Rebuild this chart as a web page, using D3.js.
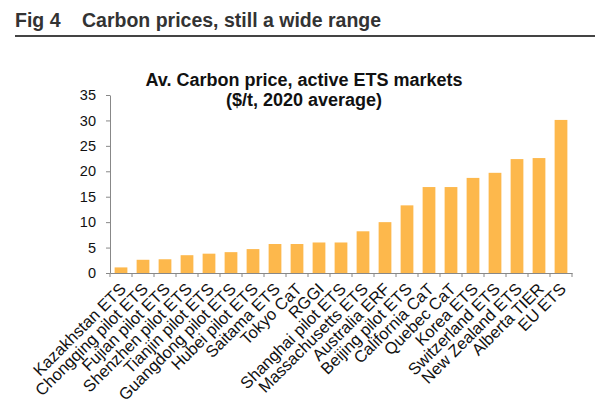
<!DOCTYPE html>
<html>
<head>
<meta charset="utf-8">
<script src="https://cdn.jsdelivr.net/npm/d3@7"></script>
<style>
  html, body { margin: 0; padding: 0; background: #fff; }
  svg { display: block; font-family: "Liberation Sans", Arial, Helvetica, sans-serif; }
</style>
</head>
<body>
<svg id="chart" width="602" height="416"></svg>
<script>
const categories = [
  "Kazakhstan ETS", "Chongqing pilot ETS", "Fujian pilot ETS", "Shenzhen pilot ETS",
  "Tianjin pilot ETS", "Guangdong pilot ETS", "Hubei pilot ETS", "Saitama ETS",
  "Tokyo CaT", "RGGI", "Shanghai pilot ETS", "Massachusetts ETS", "Australia ERF",
  "Beijing pilot ETS", "California CaT", "Quebec CaT", "Korea ETS", "Switzerland ETS",
  "New Zealand ETS", "Alberta TIER", "EU ETS"
];
const prices = [1.1, 2.6, 2.7, 3.5, 3.8, 4.1, 4.7, 5.7, 5.7, 6.0, 6.0, 8.2, 10.0,
  13.3, 16.9, 16.9, 18.7, 19.7, 22.4, 22.6, 30.1];
const yTicks = [0, 5, 10, 15, 20, 25, 30, 35];
const figLabel = "Fig 4";
const figTitle = "Carbon prices, still a wide range";
const chartTitle = ["Av. Carbon price, active ETS markets", "($/t, 2020 average)"];

(function () {
const svg = d3.select("#chart");
const mLeft = 110, mRight = 572, mTop = 95, mBottom = 273;

// Header
svg.append("text").attr("x", 15).attr("y", 27)
  .attr("font-size", 19.5).attr("font-weight", "bold").attr("fill", "#333")
  .text(figLabel);
svg.append("text").attr("x", 82).attr("y", 27)
  .attr("font-size", 19.5).attr("font-weight", "bold").attr("fill", "#333")
  .text(figTitle);
svg.append("line").attr("x1", 15).attr("x2", 595).attr("y1", 36).attr("y2", 36)
  .attr("stroke", "#444").attr("stroke-width", 2);

// Chart title
const ct = svg.append("text").attr("text-anchor", "middle")
  .attr("font-size", 18).attr("font-weight", "bold").attr("fill", "#111");
ct.append("tspan").attr("x", 304).attr("y", 86).text(chartTitle[0]);
ct.append("tspan").attr("x", 304).attr("y", 106).text(chartTitle[1]);

const x = d3.scaleBand().domain(categories).range([mLeft, mRight]).paddingInner(0.42).paddingOuter(0.21);
const y = d3.scaleLinear().domain([0, 35]).range([mBottom, mTop]);

// Bars
svg.append("g").selectAll("rect").data(categories).join("rect")
  .attr("x", d => x(d))
  .attr("width", x.bandwidth())
  .attr("y", (d, i) => y(prices[i]))
  .attr("height", (d, i) => y(0) - y(prices[i]))
  .attr("fill", "#FDB84C");

// Y axis
const yAxis = svg.append("g").attr("transform", `translate(${mLeft},0)`)
  .call(d3.axisLeft(y).tickValues(yTicks).tickSize(4).tickPadding(10).tickSizeOuter(0));
yAxis.select(".domain").attr("stroke", "#888");
yAxis.selectAll(".tick line").attr("stroke", "#888");
yAxis.selectAll(".tick text").attr("font-size", 14.5).attr("fill", "#111")
  .attr("font-family", "Liberation Sans, Arial, sans-serif");

// X axis
const xAxis = svg.append("g").attr("transform", `translate(0,${mBottom})`)
  .call(d3.axisBottom(x).tickSize(0).tickSizeOuter(0));
xAxis.select(".domain").attr("stroke", "#888");
// ticks at band boundaries
const bounds = d3.range(categories.length + 1).map(i => mLeft + i * x.step());
xAxis.selectAll("line.sep").data(bounds).join("line").attr("class", "sep")
  .attr("x1", d => d).attr("x2", d => d).attr("y1", 0).attr("y2", 4)
  .attr("stroke", "#888");
xAxis.selectAll(".tick text")
  .attr("font-size", 16.5).attr("fill", "#111")
  .attr("font-family", "Liberation Sans, Arial, sans-serif")
  .attr("text-anchor", "end")
  .attr("dy", null).attr("y", 0)
  .attr("transform", "translate(6,17) rotate(-45)");
})();
</script>
</body>
</html>
